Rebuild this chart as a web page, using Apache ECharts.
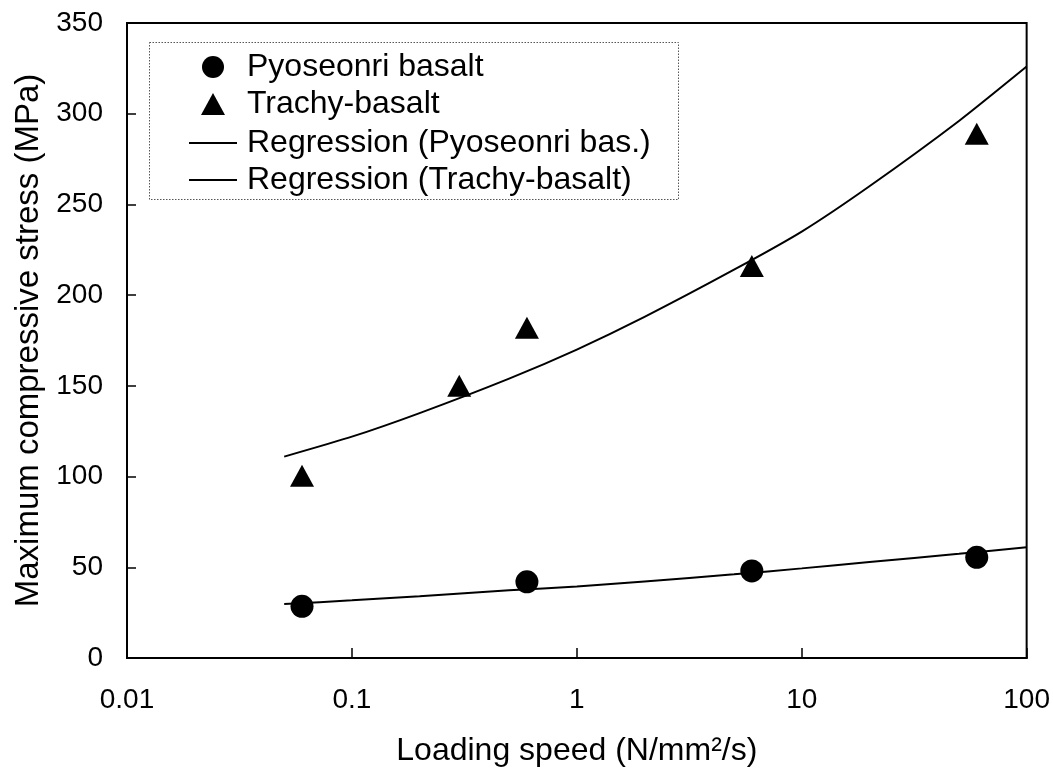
<!DOCTYPE html>
<html>
<head>
<meta charset="utf-8">
<script src="https://cdn.jsdelivr.net/npm/echarts@6/dist/echarts.min.js"></script>
<style>
  html, body { margin: 0; padding: 0; background: #fff; }
  #chart { width: 1053px; height: 776px; }
</style>
</head>
<body>
<div id="chart"></div>
<script>
// ---- data ----
const xTickLabels = ['0.01', '0.1', '1', '10', '100'];
const yTickLabels = ['0', '50', '100', '150', '200', '250', '300', '350'];

const pyoseonriSpeed  = [0.06, 0.6, 6, 60];
const pyoseonriStress = [28.5, 42, 48, 55.5];

const trachySpeed  = [0.06, 0.3, 0.6, 6, 60];
const trachyStress = [100.5, 150, 182, 216, 289];

const regSpeed      = [0.05, 0.1, 0.2, 0.5, 1, 2, 5, 10, 20, 50, 100];
const regPyoseonri  = [29.7, 31.8, 34.1, 37.3, 39.4, 42.2, 46.1, 49.4, 52.9, 57.4, 61];
const regTrachy     = [111, 122, 135, 154, 170, 188, 214, 235, 260, 296, 326];

const names = ['Pyoseonri basalt', 'Trachy-basalt', 'Regression (Pyoseonri bas.)', 'Regression (Trachy-basalt)'];

const zip = (xs, ys) => xs.map((x, i) => [x, ys[i]]);
const FONT = "'Liberation Sans', Arial, Helvetica, sans-serif";
const LEG_FONT = 32;

const chart = echarts.init(document.getElementById('chart'), null, { renderer: 'canvas' });
chart.setOption({
  animation: false,
  backgroundColor: '#fff',
  textStyle: { fontFamily: FONT, color: '#000' },
  grid: {
    left: 127, right: 26, top: 23, bottom: 118,
    show: true, borderColor: '#000', borderWidth: 2, backgroundColor: 'transparent'
  },
  graphic: [{
    type: 'rect', left: 147, top: 40, z: 10, silent: true,
    shape: { width: 529, height: 157 },
    style: { fill: 'none', stroke: '#555', lineWidth: 1, lineDash: [1.5, 1.5] }
  }],
  legend: [
    {
      orient: 'vertical', left: 201, top: 51, padding: 0,
      itemWidth: 24, itemHeight: 22, itemGap: 5,
      textStyle: { fontFamily: FONT, fontSize: LEG_FONT, color: '#000', padding: [0, 0, 0, 17] },
      data: [
        { name: names[0], icon: 'circle' },
        { name: names[1], icon: 'triangle' }
      ]
    },
    {
      orient: 'vertical', left: 189, top: 127, padding: 0,
      itemWidth: 48, itemHeight: 2, itemGap: 5,
      textStyle: { fontFamily: FONT, fontSize: LEG_FONT, color: '#000', padding: [0, 0, 0, 5] },
      data: [
        { name: names[2], icon: 'rect' },
        { name: names[3], icon: 'rect' }
      ]
    }
  ],
  xAxis: {
    type: 'log', logBase: 10, min: 0.01, max: 100,
    name: 'Loading speed (N/mm\u00B2/s)',
    nameLocation: 'middle', nameGap: 77,
    nameTextStyle: { fontFamily: FONT, fontSize: 32, color: '#000' },
    axisLine: { show: true, lineStyle: { color: '#000', width: 2 } },
    axisTick: { show: true, inside: true, length: 10, lineStyle: { color: '#000', width: 1.5 } },
    minorTick: { show: false },
    splitLine: { show: false },
    axisLabel: {
      margin: 28, fontFamily: FONT, fontSize: 28, color: '#000',
      formatter: function (v) {
        const idx = Math.round(Math.log10(v)) + 2;
        return xTickLabels[idx] !== undefined ? xTickLabels[idx] : '';
      }
    }
  },
  yAxis: {
    type: 'value', min: 0, max: 350, interval: 50,
    name: 'Maximum compressive stress (MPa)',
    nameLocation: 'middle', nameGap: 71, nameRotate: 90,
    nameTextStyle: { fontFamily: FONT, fontSize: 33, color: '#000' },
    axisLine: { show: true, lineStyle: { color: '#000', width: 2 } },
    axisTick: { show: true, inside: true, length: 9, lineStyle: { color: '#000', width: 1.5 } },
    splitLine: { show: false },
    axisLabel: {
      margin: 24, fontFamily: FONT, fontSize: 28, color: '#000',
      formatter: function (v) {
        const idx = Math.round(v / 50);
        return yTickLabels[idx] !== undefined ? yTickLabels[idx] : '';
      }
    }
  },
  series: [
    {
      name: names[0], type: 'scatter',
      data: zip(pyoseonriSpeed, pyoseonriStress),
      symbol: 'circle', symbolSize: 23,
      itemStyle: { color: '#000', opacity: 1 }, z: 5
    },
    {
      name: names[1], type: 'scatter',
      data: zip(trachySpeed, trachyStress),
      symbol: 'triangle', symbolSize: [24, 22],
      itemStyle: { color: '#000', opacity: 1 }, z: 5
    },
    {
      name: names[2], type: 'line',
      data: zip(regSpeed, regPyoseonri),
      symbol: 'none', showSymbol: false, smooth: 0.2,
      lineStyle: { color: '#000', width: 2 }, itemStyle: { color: '#000' }, z: 3
    },
    {
      name: names[3], type: 'line',
      data: zip(regSpeed, regTrachy),
      symbol: 'none', showSymbol: false, smooth: 0.2,
      lineStyle: { color: '#000', width: 2 }, itemStyle: { color: '#000' }, z: 3
    }
  ]
});
</script>
</body>
</html>
